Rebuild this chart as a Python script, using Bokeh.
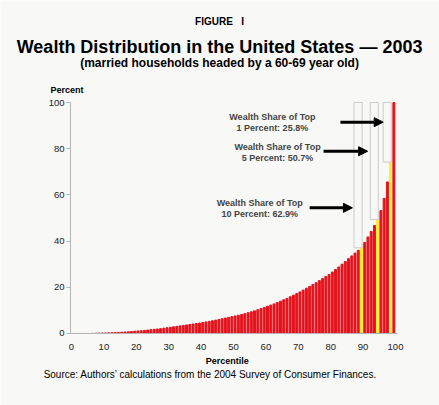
from bokeh.plotting import figure
from bokeh.models import ColumnDataSource, Range1d, Label, Arrow, NormalHead, FixedTicker
from bokeh.embed import file_html
from bokeh.resources import INLINE

# cumulative share of total wealth held by households up to each percentile
percentiles = list(range(1, 101))
cum_share = [
    0.0, 0.0, 0.0, 0.0, 0.0, 0.0, 0.05, 0.1, 0.15, 0.2,
    0.25, 0.3, 0.35, 0.4, 0.45, 0.55, 0.65, 0.75, 0.85, 1.0,
    1.1, 1.2, 1.35, 1.5, 1.65, 1.8, 1.95, 2.1, 2.3, 2.5,
    2.7, 2.9, 3.1, 3.3, 3.5, 3.7, 3.9, 4.1, 4.3, 4.5,
    4.75, 5.0, 5.25, 5.5, 5.8, 6.1, 6.4, 6.7, 7.0, 7.3,
    7.6, 7.9, 8.2, 8.6, 9.0, 9.4, 9.8, 10.3, 10.8, 11.3,
    11.8, 12.3, 12.8, 13.4, 14.0, 14.6, 15.2, 15.9, 16.6, 17.3,
    18.0, 18.8, 19.6, 20.4, 21.2, 22.0, 22.9, 23.8, 24.7, 25.6,
    26.6, 27.7, 28.8, 30.0, 31.2, 32.4, 33.6, 34.8, 36.0, 37.1,
    39.4, 41.8, 44.2, 46.8, 49.3, 53.2, 58.5, 65.6, 74.2, 100.0,
]

# top groups: the bar where the group starts, its size and its share
group_start = [90, 95, 99]
group_size = [10, 5, 1]
group_share = [62.9, 50.7, 25.8]

x_ticks = [0, 10, 20, 30, 40, 50, 60, 70, 80, 90, 100]
y_ticks = [0, 20, 40, 60, 80, 100]

RED = "#e4121c"
YELLOW = "#ffec2e"
BG = "#f8f8f6"
FONT = "Liberation Sans"

colors = [YELLOW if p in group_start else RED for p in percentiles]
bars = ColumnDataSource(dict(
    x=[p - 0.5 for p in percentiles],
    top=cum_share,
    color=colors,
))

# the frame fills the whole canvas so that titles and notes are not clipped;
# the axes are pinned inside it with fixed_location
p = figure(width=439, height=405, output_backend="svg", toolbar_location=None,
           x_range=Range1d(-21.91, 113.58), y_range=Range1d(-31.17, 144.16),
           min_border=0, background_fill_color=BG, border_fill_color=BG)
p.outline_line_color = None
p.grid.visible = False

p.vbar(x="x", top="top", width=0.6, color="color", source=bars)

# outline boxes showing what the top groups own
box_bottom = [cum_share[g - 1] for g in group_start]
p.quad(left=[g - 2.8 for g in group_start], right=[g - 0.3 for g in group_start],
       bottom=box_bottom, top=[100] * 3,
       fill_color=None, line_color="#cdcdcd", line_width=1)

for ax in (p.xaxis, p.yaxis):
    ax.axis_line_color = "#b4b4b4"
    ax.major_label_text_font = FONT
    ax.major_label_text_font_size = "9.5px"
    ax.major_label_text_color = "#222222"
    ax.minor_tick_line_color = None

p.xaxis.fixed_location = 0
p.xaxis.bounds = (-0.3, 100.6)
p.xaxis.ticker = FixedTicker(ticks=x_ticks)
p.xaxis.major_tick_line_color = None
p.xaxis.major_label_standoff = 5

p.yaxis.fixed_location = -0.3
p.yaxis.bounds = (0, 100)
p.yaxis.ticker = FixedTicker(ticks=y_ticks)
p.yaxis.major_tick_line_color = "#b4b4b4"
p.yaxis.major_tick_out = 4
p.yaxis.major_tick_in = 0
p.yaxis.major_label_standoff = 2

# arrows and labels for the three groups (positions in data units)
label_pos = [(58.1, 54.3), (63.6, 78.5), (62.0, 91.2)]
arrow_pos = [(73.5, 86.7, 54.4), (77.8, 91.4, 78.9), (83.0, 96.2, 91.5)]
for size, share, (lx, ly), (x0, x1, ay) in zip(group_size, group_share, label_pos, arrow_pos):
    p.add_layout(Label(x=lx, y=ly, text=f"Wealth Share of Top\n{size} Percent: {share}%",
                       text_align="center", text_baseline="middle",
                       text_font=FONT, text_font_style="bold",
                       text_font_size="9px", text_line_height=1.1))
    p.add_layout(Arrow(x_start=x0, y_start=ay, x_end=x1, y_end=ay,
                       line_width=3, line_color="black",
                       end=NormalHead(size=9, fill_color="black", line_color="black")))


def note(x, y, text, size, bold=True, align="center"):
    p.add_layout(Label(x=x, y=y, text=text, text_align=align, text_baseline="middle",
                       text_font=FONT, text_font_style="bold" if bold else "normal",
                       text_font_size=size, text_color="black"))


note(45.7, 135.2, "FIGURE\u00a0\u00a0\u00a0I", "10px")
note(45.7, 124.2, "Wealth Distribution in the United States \u2014 2003", "18px")
note(45.7, 117.3, "(married households headed by a 60-69 year old)", "12px")
note(-6.5, 105.2, "Percent", "9px", align="left")
note(48.1, -11.7, "Percentile", "9px")
note(-8.6, -17.7, "Source: Authors\u2019 calculations from the 2004 Survey of Consumer Finances.",
     "10px", bold=False, align="left")

open("out.html", "w").write(file_html(p, INLINE))
